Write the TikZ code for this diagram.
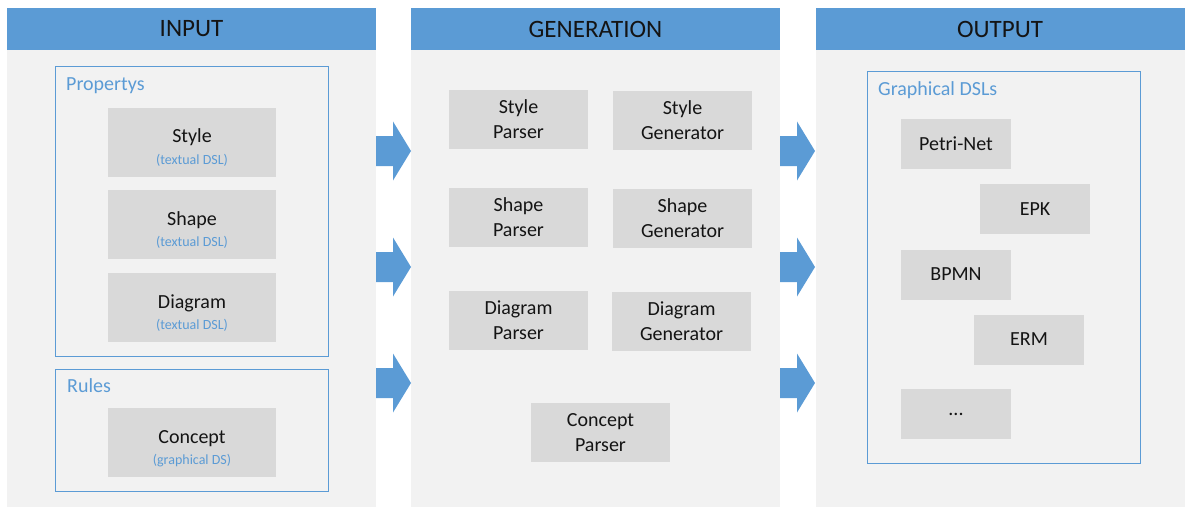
\documentclass[tikz,border=0pt]{standalone}
\usepackage{fontspec}
\setmainfont{Carlito}
\definecolor{hdrblue}{HTML}{5B9BD5}
\definecolor{panelgray}{HTML}{F2F2F2}
\definecolor{boxgray}{HTML}{D9D9D9}
\definecolor{inktext}{HTML}{141414}
\newcommand{\subtxt}[1]{{\fontsize{14}{21}\selectfont\color{hdrblue}#1}}
\begin{document}
\begin{tikzpicture}[x=1pt,y=-1pt,
    panel/.style={fill=panelgray, inner sep=0pt, minimum width=369pt, minimum height=499pt},
    header/.style={fill=hdrblue, inner sep=0pt, minimum width=369pt, minimum height=42pt,
        text=inktext, font=\fontsize{25}{30}\selectfont},
    group/.style={draw=hdrblue, line width=1pt, inner sep=0pt},
    grouplabel/.style={anchor=base west, inner sep=0pt, text=hdrblue, font=\fontsize{20}{24}\selectfont},
    srcbox/.style={fill=boxgray, inner sep=0pt, minimum width=168pt, minimum height=69pt,
        text height=45pt, text depth=2pt,
        align=center, text=inktext, font=\fontsize{20}{21}\selectfont},
    genbox/.style={fill=boxgray, inner sep=0pt, minimum width=139pt, minimum height=59pt,
        align=center, text=inktext, font=\fontsize{20}{25}\selectfont},
    dslbox/.style={fill=boxgray, inner sep=0pt, minimum width=110pt, minimum height=50pt,
        text=inktext, font=\fontsize{20}{24}\selectfont},
    flow/.style={fill=hdrblue}]
    \useasboundingbox (0,0) rectangle (1193,516);

    % Drawing the three columns
    \node [panel] (inpanel) at (191.5,257.5) {};
    \node [panel] (genpanel) at (595.5,257.5) {};
    \node [panel] (outpanel) at (1000,257.5) {};
    \node [header] (inhead) at (191.5,29) {INPUT};
    \node [header] (genhead) at (595.5,29) {GENERATION};
    \node [header] (outhead) at (1000,29) {OUTPUT};

    % Drawing group Propertys
    \node [group, minimum width=273pt, minimum height=289pt] (props) at (191.5,211.5) {};
    \node [grouplabel] (propslabel) at (66,91) {Propertys};
    \node [srcbox] (style) at (192,142.5) {Style\\\subtxt{(textual DSL)}};
    \node [srcbox] (shape) at (192,224.5) {Shape\\\subtxt{(textual DSL)}};
    \node [srcbox] (diagram) at (192,307.5) {Diagram\\\subtxt{(textual DSL)}};

    % Drawing group Rules
    \node [group, minimum width=273pt, minimum height=122pt] (rules) at (191.5,430) {};
    \node [grouplabel] (ruleslabel) at (67,392) {Rules};
    \node [srcbox] (concept) at (192,442.5) {Concept\\\subtxt{(graphical DS)}};

    % Drawing parsers and generators
    \node [genbox] (styleparser) at (518.5,119.5) {Style\\Parser};
    \node [genbox] (stylegen) at (682.5,120.5) {Style\\Generator};
    \node [genbox] (shapeparser) at (518.5,217.5) {Shape\\Parser};
    \node [genbox] (shapegen) at (682.5,218.5) {Shape\\Generator};
    \node [genbox] (diagramparser) at (518.5,320.5) {Diagram\\Parser};
    \node [genbox] (diagramgen) at (681.5,321.5) {Diagram\\Generator};
    \node [genbox] (conceptparser) at (600.5,432.5) {Concept\\Parser};

    % Drawing group Graphical DSLs
    \node [group, minimum width=273pt, minimum height=391pt] (dsls) at (1003.5,267.5) {};
    \node [grouplabel] (dslslabel) at (878,96) {Graphical DSLs};
    \node [dslbox] (petri) at (956,144) {Petri-Net};
    \node [dslbox] (epk) at (1035,209) {EPK};
    \node [dslbox] (bpmn) at (956,274.5) {BPMN};
    \node [dslbox] (erm) at (1029,339.5) {ERM};
    \node [dslbox] (more) at (956,414) {...};

    % Drawing block arrows between columns
    \foreach \ax in {376,780}{
        \foreach \ay in {151,267,383}{
            \fill [flow] (\ax,\ay-15) -- ++(17,0) -- ++(0,-14.5) -- ++(18,29.5)
                -- ++(-18,29.5) -- ++(0,-14.5) -- ++(-17,0) -- cycle;
        }
    }
\end{tikzpicture}
\end{document}
